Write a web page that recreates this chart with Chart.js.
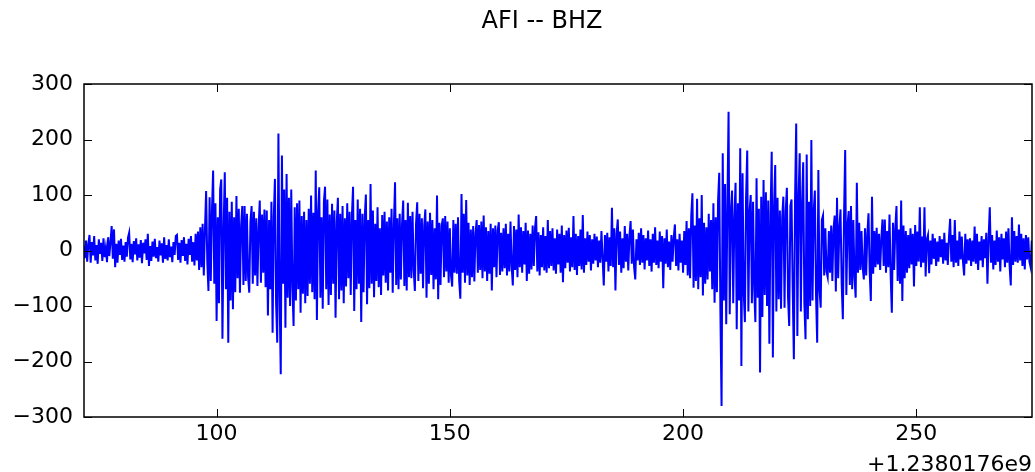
<!DOCTYPE html>
<html>
<head>
<meta charset="utf-8">
<script src="https://cdn.jsdelivr.net/npm/chart.js@4.4.1/dist/chart.umd.min.js"></script>
<style>
  html, body { margin: 0; padding: 0; background: #fff; }
</style>
</head>
<body>
<canvas id="trace" width="1035" height="472"></canvas>
<script>
// trace header
const stationTitle = 'AFI -- BHZ';
const timeOffsetLabel = '+1.2380176e9';
const startTime = 71.5;    // seconds, relative to the offset
const sampleStep = 0.25;   // spacing of the samples
const xRange = [71.57, 274.8];
const yRange = [-300, 300];
const xTicks = [100, 150, 200, 250];
const yTicks = [-300, -200, -100, 0, 100, 200, 300];

// counts in 10 s chunks (40 samples each)
const seg071 = [8,-14,18,-20,12,28,-22,15,-9,26,-18,10,-24,20,-6,14,-19,22,-12,5,-21,24,-10,16,44,-15,38,-30,12,-22,18,-8,21,-17,9,-20,15,-11,23,32];
const seg081 = [-16,12,-21,17,-7,22,-18,11,-13,19,-23,14,-5,20,-17,30,-28,8,-19,16,-11,21,-14,6,-20,18,-9,13,-22,24,-15,10,-18,20,-12,7,-21,15,-8,26];
const seg091 = [28,-17,14,-22,19,-10,24,-19,12,-25,21,-8,26,-20,15,-27,30,-18,34,-35,42,-30,48,-45,38,107,-20,-73,96,-55,72,144,-60,85,-127,60,-95,110,128,-159];
const seg101 = [40,141,-70,95,-166,70,-90,88,-106,60,-75,98,-50,75,-76,45,80,-62,80,-55,66,-48,-76,52,80,-60,70,-45,58,-64,40,90,-58,65,-40,74,-66,72,-117,55];
const seg111 = [-70,88,-148,60,129,-95,-166,211,-80,-223,171,-60,110,-139,138,-85,95,-100,110,-65,-136,78,-90,85,-70,90,-112,62,-78,70,-95,55,-82,75,-60,99,-75,68,-88,144];
const seg121 = [-125,70,114,-85,60,-105,88,115,-70,92,-98,65,-80,84,-60,72,-121,50,95,-88,66,-72,80,-95,58,-65,85,-50,70,-80,62,115,-109,55,-70,92,-60,75,-129,66];
const seg131 = [-75,60,101,-97,55,-68,120,-60,72,-84,48,-55,78,-66,40,-80,64,-45,70,-58,52,-72,60,-40,75,-76,45,123,-62,58,-70,66,-52,48,90,-64,55,-72,86,-48];
const seg141 = [62,-50,70,-35,-73,48,87,-55,66,-42,58,-68,45,74,-85,52,-60,68,-44,55,-70,40,-52,99,-88,50,-62,45,58,-48,62,-38,52,-58,40,-45,-65,55,-40,48];
const seg151 = [-42,60,-55,-87,102,-40,66,-58,91,-45,50,-62,38,-48,44,-56,30,55,-40,46,-35,52,-50,63,-38,42,-55,35,-42,48,-72,40,-30,45,-48,36,51,-44,32,-38];
const seg161 = [40,-32,48,-45,30,-38,52,-28,-63,44,-35,38,-48,65,-30,42,-40,35,-25,50,-55,36,-42,30,-34,45,-28,40,62,-38,33,-45,28,-30,42,-36,26,-40,55,-32];
const seg171 = [35,-28,40,-36,22,-42,38,-25,30,-40,45,-57,28,-32,36,-22,41,-38,24,-30,62,-35,30,-44,26,-28,38,-34,64,-40,22,-26,34,-20,28,-36,20,-24,30,-18];
const seg181 = [25,-30,18,-22,35,-15,-63,28,-20,32,-38,24,-28,77,-30,40,-72,30,56,-26,34,-40,22,-32,44,-20,30,-36,26,53,-24,38,-30,-52,20,-18,32,-26,40,-22];
const seg191 = [28,-34,22,-18,36,-28,20,-38,30,-22,42,-26,18,-32,34,-20,26,-68,22,-24,38,-30,16,-35,28,-20,24,47,-28,20,-36,30,-22,18,-40,35,-26,53,-45,40];
const seg201 = [-50,62,103,-67,45,-55,93,-70,58,-48,100,-81,50,-60,42,-52,66,-38,55,-70,85,-94,60,-75,90,140,-110,-280,175,-90,120,-133,80,250,-115,70,108,-95,60,122];
const seg211 = [-142,85,-90,184,-208,139,-75,-129,95,180,-110,70,100,-95,88,-70,-129,130,-85,75,-220,97,-120,127,-80,105,-100,90,-168,65,178,-193,80,154,-110,95,-88,72,-105,60];
const seg221 = [97,-103,70,113,-85,-136,80,92,-70,-196,90,229,-154,95,175,-110,85,159,-95,-160,173,-124,88,-100,199,-90,70,108,-80,-166,145,-70,-103,55,63,-45,40,-38,-48,35];
const seg231 = [-40,45,-55,38,63,-74,95,-50,42,74,-60,-124,60,181,-80,45,71,-62,80,-70,55,-48,-85,122,-40,50,-35,35,-30,-52,40,-45,30,67,-38,-91,97,-42,35,-30];
const seg241 = [41,-25,30,-35,22,56,-28,56,-40,35,-30,65,-45,-112,50,-35,42,80,-55,38,-60,90,-91,45,-50,35,-40,28,-32,40,-25,30,-65,46,-28,34,-20,78,-30,25];
const seg251 = [-22,78,-47,20,28,-41,18,-25,30,-15,22,-28,16,-20,26,-12,20,-24,32,-18,14,-26,24,57,-20,28,-30,55,-22,18,-28,34,-16,25,-20,-45,30,-24,20,-18];
const seg261 = [22,-28,18,-20,43,-24,30,-35,16,-18,26,-30,20,-14,32,-60,24,78,-22,28,-34,18,-26,36,-20,24,-38,30,-16,22,-30,34,-22,40,-28,-63,60,-26,35,-20];
const seg271 = [26,-22,47,-18,30,-28,22,-34,28,-16,24,-20,-30,18,-12];

const counts = [].concat(seg071, seg081, seg091, seg101, seg111, seg121, seg131,
    seg141, seg151, seg161, seg171, seg181, seg191, seg201, seg211, seg221,
    seg231, seg241, seg251, seg261, seg271);

const points = counts.map((v, i) => ({ x: startTime + i * sampleStep, y: v }));

const tickFont = { family: '"DejaVu Sans"', size: 22 };

// matplotlib style box: frame, inward ticks on all four sides, title
const frameAndTicks = {
    id: 'frameAndTicks',
    afterDatasetsDraw(chart) {
        const { ctx, chartArea: a, scales } = chart;
        ctx.save();
        ctx.strokeStyle = '#000';
        ctx.lineWidth = 1;
        ctx.beginPath();
        scales.x.ticks.forEach(t => {
            const px = Math.round(scales.x.getPixelForValue(t.value)) + 0.5;
            ctx.moveTo(px, a.top);
            ctx.lineTo(px, a.top + 8);
            ctx.moveTo(px, a.bottom);
            ctx.lineTo(px, a.bottom - 8);
        });
        scales.y.ticks.forEach(t => {
            const py = Math.round(scales.y.getPixelForValue(t.value)) + 0.5;
            ctx.moveTo(a.left, py);
            ctx.lineTo(a.left + 8, py);
            ctx.moveTo(a.right, py);
            ctx.lineTo(a.right - 8, py);
        });
        ctx.stroke();
        ctx.lineWidth = 1.5;
        ctx.strokeRect(a.left, a.top, a.right - a.left, a.bottom - a.top);

        ctx.fillStyle = '#000';
        ctx.font = '24px "DejaVu Sans"';
        ctx.textAlign = 'center';
        ctx.textBaseline = 'alphabetic';
        ctx.fillText(stationTitle, 542, 28);
        ctx.restore();
    }
};

new Chart(document.getElementById('trace'), {
    type: 'line',
    data: {
        datasets: [{
            data: points,
            borderColor: '#0000ff',
            borderWidth: 2,
            pointRadius: 0,
            tension: 0,
            fill: false
        }]
    },
    options: {
        responsive: false,
        animation: false,
        events: [],
        layout: { padding: { top: 84, right: 3, left: 0, bottom: 0 } },
        plugins: {
            legend: { display: false },
            tooltip: { enabled: false }
        },
        scales: {
            x: {
                type: 'linear',
                min: xRange[0],
                max: xRange[1],
                grid: { display: false, drawTicks: false },
                border: { display: false },
                afterBuildTicks: s => { s.ticks = xTicks.map(v => ({ value: v })); },
                afterFit: s => { s.height = 55; },
                ticks: {
                    color: '#000',
                    font: tickFont,
                    padding: 4,
                    maxRotation: 0,
                    autoSkip: false,
                    callback: v => String(v)
                },
                title: {
                    display: true,
                    text: timeOffsetLabel,
                    align: 'end',
                    color: '#000',
                    font: { family: '"DejaVu Sans"', size: 22, lineHeight: 0.6 },
                    padding: 0
                }
            },
            y: {
                min: yRange[0],
                max: yRange[1],
                grid: { display: false, drawTicks: false },
                border: { display: false },
                afterBuildTicks: s => { s.ticks = yTicks.map(v => ({ value: v })); },
                afterFit: s => { s.width = 84; },
                ticks: {
                    color: '#000',
                    font: tickFont,
                    padding: 11,
                    autoSkip: false,
                    callback: v => String(v).replace('-', '\u2212')
                }
            }
        }
    },
    plugins: [frameAndTicks]
});
</script>
</body>
</html>
